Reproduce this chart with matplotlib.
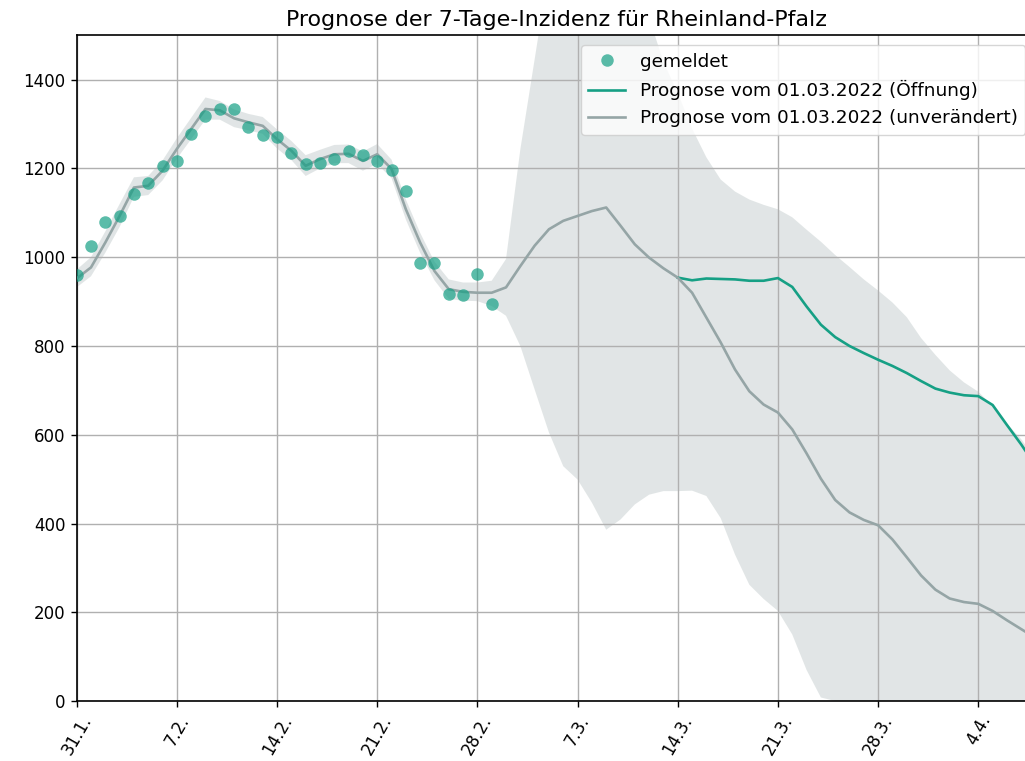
import matplotlib
matplotlib.use('Agg')
import matplotlib.pyplot as plt
import pandas as pd

OUTPUT_PATH = 'out.png'

# daily dates 31.1.2022 - 8.4.2022
dates = pd.date_range('2022-01-31', '2022-04-08', freq='D')

# reported 7-day incidence (31.1. - 1.3.)
reported = [959, 1026, 1080, 1092, 1142, 1168, 1206, 1217, 1278, 1319,
            1335, 1335, 1293, 1275, 1272, 1234, 1210, 1213, 1221, 1239,
            1231, 1217, 1197, 1150, 986, 986, 917, 914, 962, 894]

# model fit + forecast, scenario "unverändert" (31.1. - 8.4.)
unchanged = [952, 977, 1033, 1093, 1157, 1161, 1195, 1244, 1289, 1334,
             1331, 1313, 1304, 1296, 1266, 1240, 1206, 1221, 1232, 1233,
             1217, 1232, 1199, 1108, 1033, 969, 928, 922, 920, 920,
             932, 980, 1026, 1063, 1082, 1093, 1104, 1112, 1071, 1029,
             999, 975, 954, 920, 864, 808, 747, 698, 668, 650,
             612, 558, 501, 453, 425, 408, 396, 364, 324, 283,
             251, 231, 223, 219, 203, 182, 162, 142]

# forecast, scenario "Öffnung" (14.3. - 8.4.)
opening = [954, 948, 952, 951, 950, 947, 947, 953, 933, 889,
           848, 820, 800, 784, 769, 755, 739, 721, 704, 695,
           689, 687, 667, 622, 578, 530]

# uncertainty band
band_upper = [972, 1000, 1058, 1120, 1180, 1183, 1218, 1268, 1314, 1360,
              1352, 1333, 1323, 1316, 1288, 1262, 1230, 1242, 1253, 1254,
              1238, 1255, 1220, 1130, 1055, 990, 950, 943, 943, 947,
              996, 1243, 1446, 1650, 1850, 1950, 2000, 1950, 1800, 1620,
              1540, 1440, 1370, 1290, 1225, 1175, 1148, 1130, 1118, 1108,
              1090, 1062, 1035, 1005, 978, 950, 925, 898, 865, 818,
              780, 745, 718, 697, 665, 625, 590, 545]
band_lower = [932, 957, 1010, 1068, 1136, 1140, 1173, 1222, 1266, 1310,
              1310, 1293, 1286, 1278, 1245, 1219, 1183, 1200, 1212, 1212,
              1195, 1210, 1178, 1085, 1010, 948, 906, 902, 901, 890,
              868, 800, 702, 605, 529, 499, 447, 386, 409, 443,
              465, 473, 473, 474, 462, 412, 330, 262, 230, 203,
              150, 70, 8, 0, 0, 0, 0, 0, 0, 0,
              0, 0, 0, 0, 0, 0, 0, 0]

tick_labels = ['31.1.', '7.2.', '14.2.', '21.2.', '28.2.',
               '7.3.', '14.3.', '21.3.', '28.3.', '4.4.']

GREEN = '#16a085'
GRAY = '#95a5a6'


def main():
    fig = plt.figure(figsize=(10.25, 7.61), dpi=100)
    ax = fig.add_axes([0.0748, 0.0788, 0.9355, 0.8748])

    ax.fill_between(dates, band_lower, band_upper, color=GRAY, alpha=0.28,
                    linewidth=0, zorder=1)
    ax.plot(dates[42:], opening, color=GREEN, linewidth=1.9, zorder=3,
            label='Prognose vom 01.03.2022 (Öffnung)')
    ax.plot(dates, unchanged, color=GRAY, linewidth=1.9, zorder=3.5,
            label='Prognose vom 01.03.2022 (unverändert)')
    ax.plot(dates[:len(reported)], reported, 'o', color=GREEN, alpha=0.7,
            markersize=9, markeredgewidth=0, zorder=4, label='gemeldet')

    ax.set_xlim(dates[0], dates[-1])
    ax.set_ylim(0, 1500)
    ax.set_yticks(range(0, 1401, 200))
    ax.set_xticks(dates[::7])
    ax.set_xticklabels(tick_labels, rotation=60)
    ax.tick_params(labelsize=12, length=4.5, width=1)
    ax.grid(True, color='#b0b0b0', linewidth=1)
    for s in ax.spines.values():
        s.set_linewidth(1.2)

    ax.set_title('Prognose der 7-Tage-Inzidenz für Rheinland-Pfalz',
                 fontsize=15.9, pad=7)

    handles, labels = ax.get_legend_handles_labels()
    order = [2, 0, 1]
    ax.legend([handles[i] for i in order], [labels[i] for i in order],
              loc='upper right', fontsize=13.3, borderaxespad=0.55)

    fig.savefig(OUTPUT_PATH, dpi=100)
    print(f'Saved: {OUTPUT_PATH}')


if __name__ == '__main__':
    main()
